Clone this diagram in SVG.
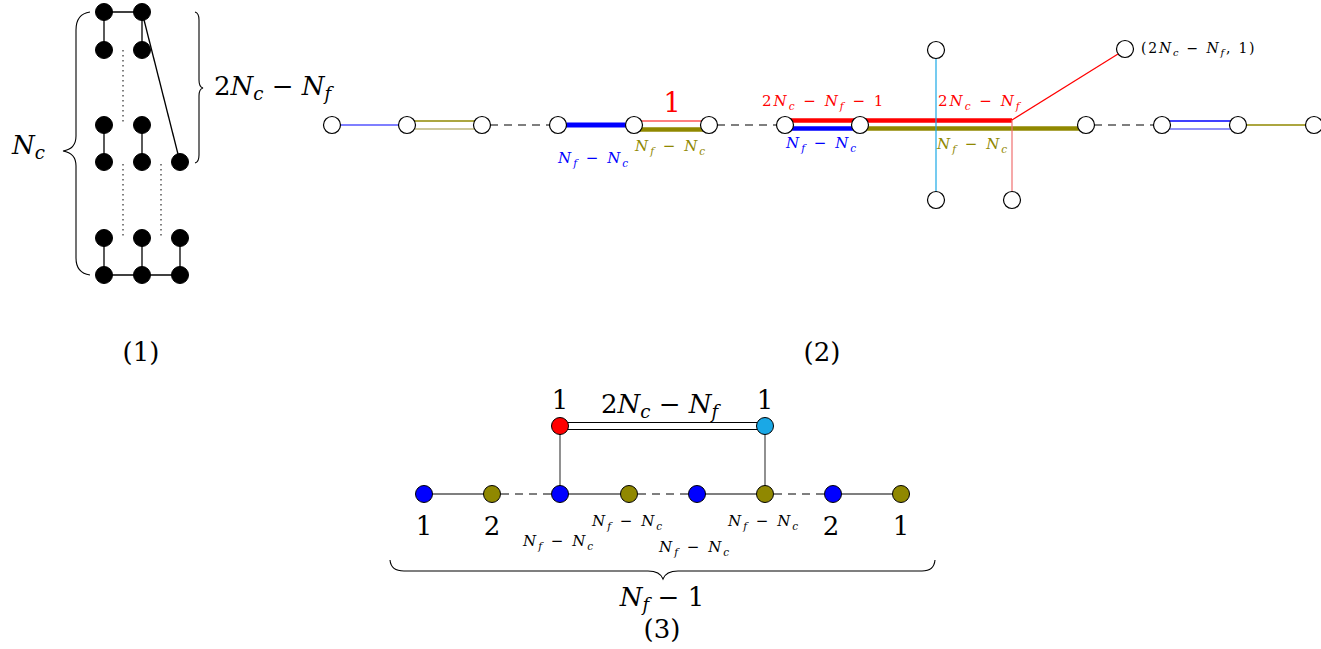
<svg xmlns="http://www.w3.org/2000/svg" width="1321" height="649" viewBox="0 0 1321 649">
<style>
text{font-family:"DejaVu Serif","Liberation Serif","Times New Roman",serif;fill:#000}
.i{font-style:italic}
.s{font-size:70%;font-style:italic}
.m{font-size:26px}
.sm{font-size:15px;letter-spacing:2px}
.bk{fill:#000;stroke:#000}
.wn{fill:#fff;stroke:#000;stroke-width:1.2}
.e{stroke:#000;stroke-width:1.3;fill:none}
.dot{stroke:#000;stroke-width:1;stroke-dasharray:1.5,3.5;fill:none}
.dash{stroke:#000;stroke-width:1.2;stroke-dasharray:8,6;fill:none}
.gdash{stroke:#555;stroke-width:1.3;stroke-dasharray:8,6;fill:none}
.g{stroke:#555;stroke-width:1.3;fill:none}
.br{stroke:#000;stroke-width:1.1;fill:none}
.blue{fill:#0000ff}
.olive{fill:#908800}
.red{fill:#ff0000}
.cyan{fill:#1aa8e6}
</style>

<!-- Diagram (1) -->
<g id="diagram1">
  <g id="d1-connectors">
    <line class="e" x1="104" y1="12" x2="142" y2="12"/>
    <line class="e" x1="104" y1="12" x2="104" y2="50"/>
    <line class="e" x1="142" y1="12" x2="142" y2="50"/>
    <line class="e" x1="142" y1="12" x2="180" y2="162"/>
    <line class="e" x1="104" y1="125" x2="104" y2="162"/>
    <line class="e" x1="142" y1="125" x2="142" y2="162"/>
    <line class="e" x1="104" y1="238" x2="104" y2="275"/>
    <line class="e" x1="142" y1="238" x2="142" y2="275"/>
    <line class="e" x1="180" y1="238" x2="180" y2="275"/>
    <line class="e" x1="104" y1="275" x2="180" y2="275"/>
    <line class="dot" x1="123" y1="50" x2="123" y2="122"/>
    <line class="dot" x1="123" y1="164" x2="123" y2="236"/>
    <line class="dot" x1="161" y1="164" x2="161" y2="236"/>
  </g>
  <g id="d1-n1"><circle class="bk" cx="104" cy="12" r="8.5"/></g>
  <g id="d1-n2"><circle class="bk" cx="142" cy="12" r="8.5"/></g>
  <g id="d1-n3"><circle class="bk" cx="104" cy="50" r="8.5"/></g>
  <g id="d1-n4"><circle class="bk" cx="142" cy="50" r="8.5"/></g>
  <g id="d1-n5"><circle class="bk" cx="104" cy="125" r="8.5"/></g>
  <g id="d1-n6"><circle class="bk" cx="142" cy="125" r="8.5"/></g>
  <g id="d1-n7"><circle class="bk" cx="104" cy="162" r="8.5"/></g>
  <g id="d1-n8"><circle class="bk" cx="142" cy="162" r="8.5"/></g>
  <g id="d1-n9"><circle class="bk" cx="180" cy="162" r="8.5"/></g>
  <g id="d1-n10"><circle class="bk" cx="104" cy="238" r="8.5"/></g>
  <g id="d1-n11"><circle class="bk" cx="142" cy="238" r="8.5"/></g>
  <g id="d1-n12"><circle class="bk" cx="180" cy="238" r="8.5"/></g>
  <g id="d1-n13"><circle class="bk" cx="104" cy="275" r="8.5"/></g>
  <g id="d1-n14"><circle class="bk" cx="142" cy="275" r="8.5"/></g>
  <g id="d1-n15"><circle class="bk" cx="180" cy="275" r="8.5"/></g>
  <g id="d1-braces">
    <path class="br" d="M90,12 Q76,14 76,30 L76,136 Q76,149 63,151 Q76,153 76,166 L76,258 Q76,273 90,275"/>
    <path class="br" d="M195,12 Q199,13 199,20 L199,80 Q199,87 203,88 Q199,89 199,96 L199,155 Q199,162 195,163"/>
  </g>
  <text class="m" x="12" y="154"><tspan class="i">N</tspan><tspan class="s" dy="5">c</tspan></text>
  <text class="m" x="214" y="95">2<tspan class="i">N</tspan><tspan class="s" dy="5">c</tspan><tspan dy="-5"> − </tspan><tspan class="i">N</tspan><tspan class="s" dy="5">f</tspan></text>
  <text class="m" x="141" y="361" text-anchor="middle">(1)</text>
</g>

<!-- Diagram (2) -->
<g id="diagram2">
  <g id="d2-connectors">
    <line x1="332" y1="125" x2="407" y2="125" stroke="#0000ff" stroke-width="1.2"/>
    <line x1="407" y1="121" x2="482" y2="121" stroke="#908800" stroke-width="1.4"/>
    <line x1="407" y1="129" x2="482" y2="129" stroke="#bdb67a" stroke-width="1.6"/>
    <line class="dash" x1="490" y1="125" x2="550" y2="125"/>
    <line x1="558" y1="125" x2="634" y2="125" stroke="#0000ff" stroke-width="5"/>
    <line x1="634" y1="121" x2="709" y2="121" stroke="#ff0000" stroke-width="1.2"/>
    <line x1="634" y1="129.5" x2="709" y2="129.5" stroke="#908800" stroke-width="4.5"/>
    <line class="dash" x1="717" y1="125" x2="777" y2="125"/>
    <line x1="785" y1="120.5" x2="1012" y2="120.5" stroke="#ff0000" stroke-width="4.5"/>
    <line x1="785" y1="128.5" x2="860" y2="128.5" stroke="#0000ff" stroke-width="4.5"/>
    <line x1="860" y1="128.5" x2="1086" y2="128.5" stroke="#908800" stroke-width="4.5"/>
    <line x1="936" y1="58" x2="936" y2="192" stroke="#1aa8e6" stroke-width="1.2"/>
    <line x1="1012" y1="120" x2="1012" y2="192" stroke="#f07070" stroke-width="1.2"/>
    <line x1="1012" y1="120" x2="1118" y2="54" stroke="#ff0000" stroke-width="1.2"/>
    <line class="dash" x1="1094" y1="125" x2="1154" y2="125"/>
    <line x1="1162" y1="121" x2="1238" y2="121" stroke="#0000ff" stroke-width="1.4"/>
    <line x1="1162" y1="129" x2="1238" y2="129" stroke="#6b6bf5" stroke-width="1.6"/>
    <line x1="1238" y1="125" x2="1314" y2="125" stroke="#908800" stroke-width="1.3"/>
  </g>
  <g id="d2-n1"><circle class="wn" cx="332" cy="125" r="8.5"/></g>
  <g id="d2-n2"><circle class="wn" cx="407" cy="125" r="8.5"/></g>
  <g id="d2-n3"><circle class="wn" cx="482" cy="125" r="8.5"/></g>
  <g id="d2-n4"><circle class="wn" cx="558" cy="125" r="8.5"/></g>
  <g id="d2-n5"><circle class="wn" cx="634" cy="125" r="8.5"/></g>
  <g id="d2-n6"><circle class="wn" cx="709" cy="125" r="8.5"/></g>
  <g id="d2-n7"><circle class="wn" cx="785" cy="125" r="8.5"/></g>
  <g id="d2-n8"><circle class="wn" cx="860" cy="125" r="8.5"/></g>
  <g id="d2-n9"><circle class="wn" cx="1086" cy="125" r="8.5"/></g>
  <g id="d2-n10"><circle class="wn" cx="1162" cy="125" r="8.5"/></g>
  <g id="d2-n11"><circle class="wn" cx="1238" cy="125" r="8.5"/></g>
  <g id="d2-n12"><circle class="wn" cx="1314" cy="125" r="8.5"/></g>
  <g id="d2-n13"><circle class="wn" cx="936" cy="50" r="8.5"/></g>
  <g id="d2-n14"><circle class="wn" cx="936" cy="200" r="8.5"/></g>
  <g id="d2-n15"><circle class="wn" cx="1012" cy="200" r="8.5"/></g>
  <g id="d2-n16"><circle class="wn" cx="1125" cy="49" r="8.5"/></g>
  <text x="672" y="112" font-size="27" style="fill:#ff0000" text-anchor="middle">1</text>
  <text class="sm" x="558" y="163" style="fill:#0000ff"><tspan class="i">N</tspan><tspan class="s" dy="4">f</tspan><tspan dy="-4"> − </tspan><tspan class="i">N</tspan><tspan class="s" dy="4">c</tspan></text>
  <text class="sm" x="635" y="151" style="fill:#908800"><tspan class="i">N</tspan><tspan class="s" dy="4">f</tspan><tspan dy="-4"> − </tspan><tspan class="i">N</tspan><tspan class="s" dy="4">c</tspan></text>
  <text class="sm" x="762" y="106" style="fill:#ff0000">2<tspan class="i">N</tspan><tspan class="s" dy="4">c</tspan><tspan dy="-4"> − </tspan><tspan class="i">N</tspan><tspan class="s" dy="4">f</tspan><tspan dy="-4"> − 1</tspan></text>
  <text class="sm" x="786" y="148" style="fill:#0000ff"><tspan class="i">N</tspan><tspan class="s" dy="4">f</tspan><tspan dy="-4"> − </tspan><tspan class="i">N</tspan><tspan class="s" dy="4">c</tspan></text>
  <text class="sm" x="938" y="106" style="fill:#ff0000">2<tspan class="i">N</tspan><tspan class="s" dy="4">c</tspan><tspan dy="-4"> − </tspan><tspan class="i">N</tspan><tspan class="s" dy="4">f</tspan></text>
  <text class="sm" x="937" y="149" style="fill:#908800"><tspan class="i">N</tspan><tspan class="s" dy="4">f</tspan><tspan dy="-4"> − </tspan><tspan class="i">N</tspan><tspan class="s" dy="4">c</tspan></text>
  <text class="sm" x="1141" y="53" style="font-size:14px;letter-spacing:1.8px">(2<tspan class="i">N</tspan><tspan class="s" dy="3">c</tspan><tspan dy="-3"> − </tspan><tspan class="i">N</tspan><tspan class="s" dy="3">f</tspan><tspan dy="-3">, 1)</tspan></text>
  <text class="m" x="822" y="361" text-anchor="middle">(2)</text>
</g>

<!-- Diagram (3) -->
<g id="diagram3">
  <g id="d3-connectors">
    <line class="g" x1="424" y1="494" x2="492" y2="494"/>
    <line class="gdash" x1="501" y1="494" x2="551" y2="494"/>
    <line class="g" x1="560" y1="494" x2="629" y2="494"/>
    <line class="gdash" x1="638" y1="494" x2="688" y2="494"/>
    <line class="g" x1="697" y1="494" x2="765" y2="494"/>
    <line class="gdash" x1="774" y1="494" x2="824" y2="494"/>
    <line class="g" x1="833" y1="494" x2="901" y2="494"/>
    <line class="g" x1="560" y1="426" x2="560" y2="494"/>
    <line class="g" x1="765" y1="426" x2="765" y2="494"/>
    <line x1="560" y1="422.5" x2="765" y2="422.5" stroke="#000" stroke-width="1.2"/>
    <line x1="560" y1="429.5" x2="765" y2="429.5" stroke="#000" stroke-width="1.2"/>
  </g>
  <g id="d3-top1"><circle class="red" stroke="#000" cx="560" cy="426" r="8.5"/></g>
  <g id="d3-top2"><circle class="cyan" stroke="#000" cx="765" cy="426" r="8.5"/></g>
  <g id="d3-n1"><circle class="blue" stroke="#000" cx="424" cy="494" r="8.5"/></g>
  <g id="d3-n2"><circle class="olive" stroke="#000" cx="492" cy="494" r="8.5"/></g>
  <g id="d3-n3"><circle class="blue" stroke="#000" cx="560" cy="494" r="8.5"/></g>
  <g id="d3-n4"><circle class="olive" stroke="#000" cx="629" cy="494" r="8.5"/></g>
  <g id="d3-n5"><circle class="blue" stroke="#000" cx="697" cy="494" r="8.5"/></g>
  <g id="d3-n6"><circle class="olive" stroke="#000" cx="765" cy="494" r="8.5"/></g>
  <g id="d3-n7"><circle class="blue" stroke="#000" cx="833" cy="494" r="8.5"/></g>
  <g id="d3-n8"><circle class="olive" stroke="#000" cx="901" cy="494" r="8.5"/></g>
  <text class="m" x="560" y="409" text-anchor="middle">1</text>
  <text class="m" x="765" y="409" text-anchor="middle">1</text>
  <text class="m" x="601" y="413">2<tspan class="i">N</tspan><tspan class="s" dy="5">c</tspan><tspan dy="-5"> − </tspan><tspan class="i">N</tspan><tspan class="s" dy="5">f</tspan></text>
  <text class="m" x="424" y="535" text-anchor="middle">1</text>
  <text class="m" x="492" y="535" text-anchor="middle">2</text>
  <text class="m" x="831" y="535" text-anchor="middle">2</text>
  <text class="m" x="901" y="535" text-anchor="middle">1</text>
  <text class="sm" x="592" y="526"><tspan class="i">N</tspan><tspan class="s" dy="4">f</tspan><tspan dy="-4"> − </tspan><tspan class="i">N</tspan><tspan class="s" dy="4">c</tspan></text>
  <text class="sm" x="728" y="526"><tspan class="i">N</tspan><tspan class="s" dy="4">f</tspan><tspan dy="-4"> − </tspan><tspan class="i">N</tspan><tspan class="s" dy="4">c</tspan></text>
  <text class="sm" x="523" y="546"><tspan class="i">N</tspan><tspan class="s" dy="4">f</tspan><tspan dy="-4"> − </tspan><tspan class="i">N</tspan><tspan class="s" dy="4">c</tspan></text>
  <text class="sm" x="659" y="552"><tspan class="i">N</tspan><tspan class="s" dy="4">f</tspan><tspan dy="-4"> − </tspan><tspan class="i">N</tspan><tspan class="s" dy="4">c</tspan></text>
  <path class="br" d="M390,560 Q391,571 404,571 L648,571 Q660,571 663,579 Q666,571 678,571 L922,571 Q934,571 935,560"/>
  <text class="m" x="662" y="606" text-anchor="middle"><tspan class="i">N</tspan><tspan class="s" dy="5">f</tspan><tspan dy="-5"> − 1</tspan></text>
  <text class="m" x="662" y="638" text-anchor="middle">(3)</text>
</g>
</svg>
